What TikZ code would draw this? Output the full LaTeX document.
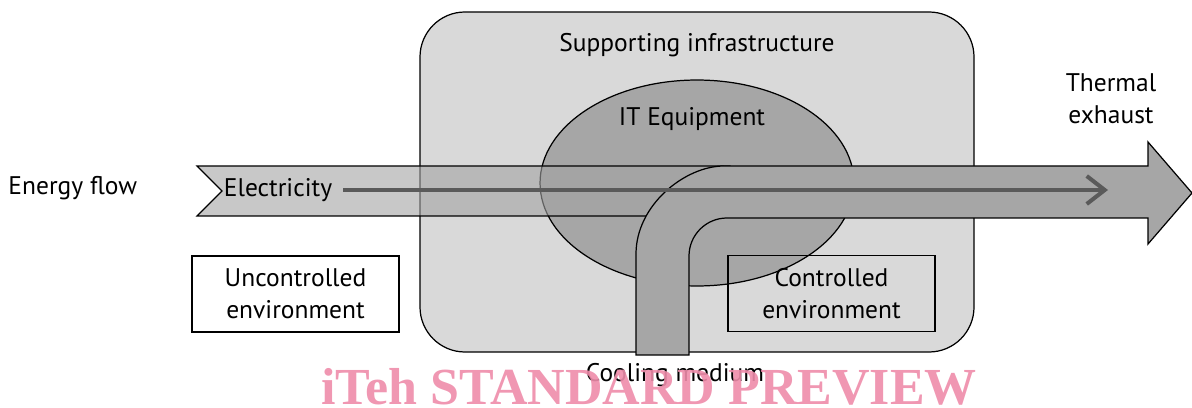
\documentclass[tikz,border=0pt]{standalone}
\usepackage{fontspec}
\setsansfont{PT Sans}
\newfontfamily\wmfont{Liberation Serif}
\usetikzlibrary{arrows.meta}
\definecolor{boxgray}{RGB}{217,217,217}
\definecolor{itgray}{RGB}{166,166,166}
\definecolor{bandgray}{RGB}{163,163,163}
\definecolor{flowline}{RGB}{90,90,90}
\definecolor{wmpink}{RGB}{238,140,170}
\def\lbl{\node[font=\sffamily\fontsize{14.5}{18}\selectfont,align=center]}
\def\envbox{\node[draw,line width=0.7pt,minimum width=4.14cm,minimum height=1.52cm,
    font=\sffamily\fontsize{14.5}{18}\selectfont,align=center]}

\begin{document}
\begin{tikzpicture}[x=0.02cm,y=-0.02cm,line width=0.7pt]
    \useasboundingbox (0,0) rectangle (1192,408);
    % infrastructure and IT equipment
    \draw[fill=boxgray,rounded corners=0.9cm] (420,12) rectangle (974,352);
    \draw[fill=itgray] (697,183) ellipse [x radius=3.14cm,y radius=2.06cm];
    \envbox[fill=white] (uncontrolled) at (295.5,294) {Uncontrolled\\environment};
    \envbox (controlled) at (831.5,293.5) {Controlled\\environment};
    % electricity in
    \draw[fill=bandgray,fill opacity=0.6] (197,166) -- (730,166) -- (730,216)
        -- (197,216) -- (222,191) -- cycle;
    % cooling medium and thermal exhaust
    \draw[fill=itgray] (636,355) -- (636,254) .. controls (636,205) and (685,166) .. (724,166)
        -- (1148,166) -- (1148,142) -- (1192,193) -- (1148,244) -- (1148,218)
        -- (727,218) .. controls (706,218) and (689,235) .. (689,256) -- (689,355) -- cycle;
    % labels
    \lbl[anchor=west] (energy) at (2,188) {Energy flow};
    \lbl[inner sep=6pt] (elec) at (278,190) {Electricity};
    \lbl (infra) at (697,45) {Supporting infrastructure};
    \lbl (it) at (692,119) {IT Equipment};
    \lbl (exhaust) at (1111,99) {Thermal\\exhaust};
    \lbl (cooling) at (675,375) {Cooling medium};
    \coordinate (flowend) at (1108,190);
    \draw[flowline,line width=2.3pt,-{Straight Barb[length=3.6mm,width=5.6mm]}] (elec.east) -- (flowend);
    % watermark
    \node[font=\wmfont\bfseries\fontsize{29.6}{30}\selectfont,text=wmpink,text opacity=0.9,
        inner sep=0pt,anchor=base] (mark) at (649,404) {iTeh STANDARD PREVIEW};
\end{tikzpicture}
\end{document}
